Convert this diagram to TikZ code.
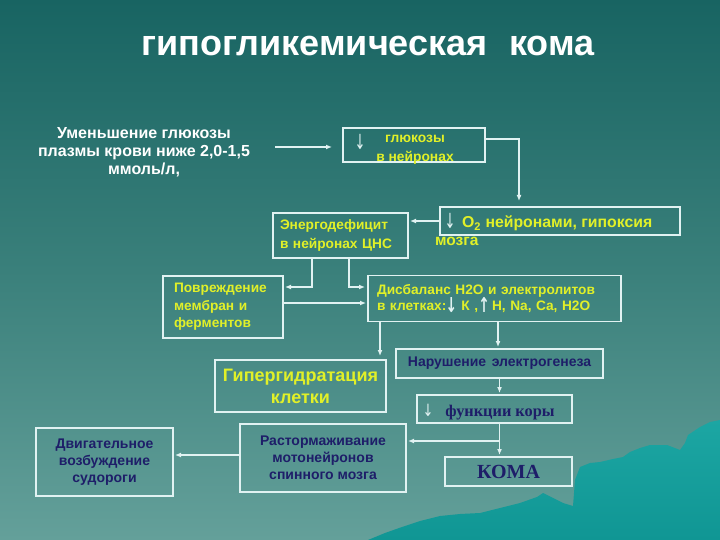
\documentclass[tikz,border=0pt]{standalone}
\usepackage{fontspec}
\setmainfont{Liberation Sans}
\newfontfamily\serifb{Liberation Serif}
\newfontfamily\dvs{DejaVu Sans}
\usetikzlibrary{arrows.meta}

\definecolor{bgtop}{RGB}{24,100,98}
\definecolor{bgmid}{RGB}{58,128,123}
\definecolor{bgbot}{RGB}{100,160,154}
\definecolor{yel}{RGB}{225,240,40}
\definecolor{navy}{RGB}{30,30,105}
\definecolor{linec}{RGB}{225,242,242}
\definecolor{mounttop}{RGB}{28,166,163}
\definecolor{mountbot}{RGB}{16,150,148}

\tikzset{
 box/.style={draw=linec, line width=1.1pt, rectangle, inner ysep=0pt, outer sep=0pt},
 arr/.style={draw=linec, line width=1.3pt, -{Latex[length=6pt,width=5pt]}, shorten >=2pt},
 ytext/.style={text=yel, font=\bfseries\fontsize{13.7}{18}\selectfont},
 ntext/.style={text=navy, font=\bfseries\fontsize{14}{17}\selectfont},
 dnglyph/.style={text=linec, font=\dvs\fontsize{13}{13}\selectfont, inner sep=0pt},
}
\newcommand{\dnarr}{{\color{linec}\dvs\raisebox{-2pt}{\scalebox{1}[1.5]{↓}}}}
\newcommand{\uparr}{{\color{linec}\dvs\raisebox{-2pt}{\scalebox{1}[1.5]{↑}}}}

\begin{document}
\begin{tikzpicture}[x=1pt,y=-1pt]
\useasboundingbox (0,0) rectangle (720,540);
% background
\shade[top color=bgtop, bottom color=bgmid] (0,0) rectangle (720,270);
\shade[top color=bgmid, bottom color=bgbot] (0,270) rectangle (720,540);
% mountain
\shade[top color=mounttop, bottom color=mountbot]
 (368,540) -- (385,533) -- (402,527) -- (420,521) -- (440,516) -- (460,514)
 -- (480,513) -- (500,508) -- (520,503) -- (537,497) -- (543,493) -- (553,498)
 -- (563,503) -- (573,506) -- (575,480) -- (580,467) -- (590,463) -- (600,462)
 -- (613,459) -- (623,457) -- (630,452) -- (640,448) -- (650,445) -- (667,445)
 -- (680,450) -- (685,443) -- (688,435) -- (700,427) -- (710,422) -- (720,420)
 -- (720,540) -- cycle;

% title
\node (title) [text=white, font=\bfseries\fontsize{36}{36}\selectfont] at (368,46)
 {гипогликемическая\hspace{0.6em}кома};

% nodes
\node (u) [text=white, font=\bfseries\fontsize{16}{18}\selectfont, align=center] at (144,152)
 {Уменьшение глюкозы\\плазмы крови ниже 2,0-1,5\\ммоль/л,};

\node (g) [box, minimum width=142pt, minimum height=34pt] at (414,145) {};
\node (gt) [text=yel, align=center, font=\bfseries\fontsize{13.8}{19.5}\selectfont] at (415,149.5)
 {глюкозы\\в нейронах};
\node (gd) [dnglyph] at (360,142) {\scalebox{1}[1.6]{↓}};

\node (o) [box, minimum width=240pt, minimum height=28pt] at (560,221) {};
\node (ot) [text=yel, anchor=west, inner sep=0pt, font=\bfseries\fontsize{15.8}{16}\selectfont] at (462,223)
 {O\textsubscript{2} нейронами, гипоксия};
\node (od) [dnglyph] at (450,221) {\scalebox{1}[1.6]{↓}};
\node (om) [text=yel, anchor=west, inner sep=0pt, font=\bfseries\fontsize{15.5}{16}\selectfont] at (435,241) {мозга};

\node (e) [box, ytext, minimum width=135pt, minimum height=45pt, text width=121pt,
 inner xsep=7pt, align=left, font=\bfseries\fontsize{13.7}{19}\selectfont] at (340.5,235.5)
 {Энергодефицит\\в нейронах ЦНС};

\node (p) [box, ytext, minimum width=120pt, minimum height=62pt, text width=98pt,
 inner xsep=11pt, align=left, font=\bfseries\fontsize{13.7}{17.5}\selectfont] at (223,307)
 {Повреждение\\мембран и\\ферментов};

\node (d) [box, ytext, minimum width=253pt, minimum height=46pt, text width=235pt,
 inner xsep=9pt, align=left, font=\bfseries\fontsize{13.7}{15}\selectfont] at (494.5,298.5)
 {Дисбаланс Н2О и электролитов\\в клетках:\makebox[10pt]{\dnarr}\hspace{5pt}К ,\makebox[12pt]{\uparr}\hspace{2pt}Н, Na, Ca, H2O};

\node (h) [box, text=yel, minimum width=171pt, minimum height=52pt, align=center,
 font=\bfseries\fontsize{18}{22}\selectfont] at (300.5,386) {Гипергидратация\\клетки};

\node (n) [box, ntext, minimum width=207pt, minimum height=29pt, align=center] at (499.5,363.5)
 {Нарушение\hspace{0.4em}электрогенеза};

\node (f) [box, minimum width=155pt, minimum height=28pt] at (494.5,409) {};
\node (ft) [text=navy, font=\serifb\bfseries\fontsize{16.3}{16}\selectfont] at (500,412.5) {функции коры};
\node (fd) [dnglyph] at (428,410) {\scalebox{1}[1.3]{↓}};

\node (k) [box, text=navy, minimum width=127pt, minimum height=29pt, align=center,
 font=\serifb\bfseries\fontsize{20}{20}\selectfont] at (508.5,471.5) {КОМА};

\node (r) [box, ntext, minimum width=166pt, minimum height=68pt, align=center] at (323,458)
 {Растормаживание\\мотонейронов\\спинного мозга};

\node (m) [box, ntext, font=\bfseries\fontsize{14}{17}\selectfont, minimum width=137pt,
 minimum height=68pt, align=center] at (104.5,462)
 {Двигательное\\возбуждение\\судороги};

% connectors
\coordinate (a1) at (275,147);
\draw[arr, shorten >=11pt] (a1) -- (a1 -| g.west);
\draw[arr, shorten >=6pt] ([yshift=6pt]g.east) -| ([xshift=-41pt]o.north);
\draw[arr] (o.west) -- (o.west -| e.east);
\draw[arr] ([xshift=-28.5pt]e.south) |- ([yshift=20pt]p.east);
\draw[arr, shorten >=3pt] ([xshift=8.5pt]e.south) |- ([yshift=11.5pt]d.west);
\draw[arr] ([yshift=4pt]p.east) -- ([yshift=4pt]p.east -| d.west);
\draw[arr, shorten >=4pt] ([xshift=-114.5pt]d.south) -- ([xshift=-114.5pt]d.south |- h.north);
\draw[arr] ([xshift=3.5pt]d.south) -- ([xshift=3.5pt]d.south |- n.north);
\draw[arr] (n.south) -- (n.south |- f.north);
\draw[arr] (n.south |- f.south) -- (n.south |- k.north);
\coordinate (br) at (499.5,441);
\draw[arr] (br) -- (br -| r.east);
\draw[arr] ([yshift=3pt]r.west) -- ([yshift=3pt]r.west -| m.east);
\end{tikzpicture}
\end{document}
